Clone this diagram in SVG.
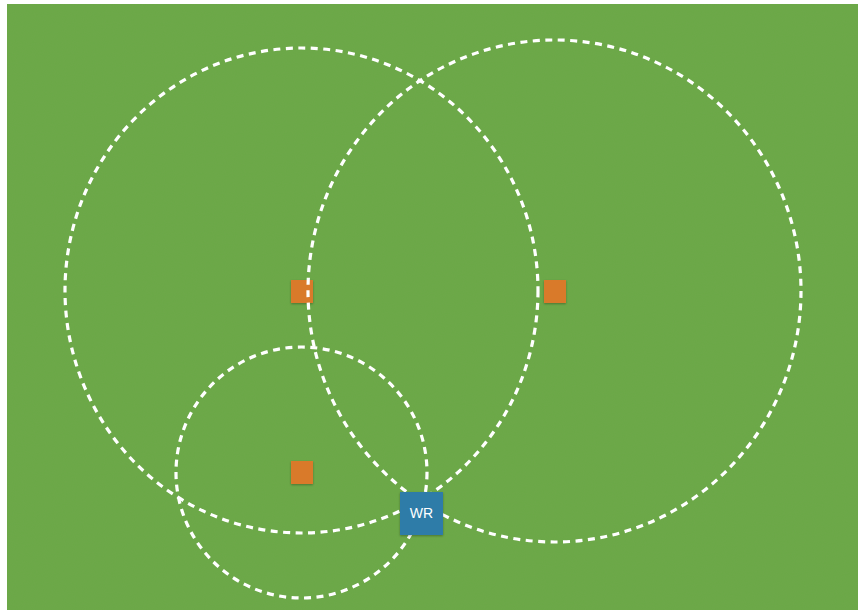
<svg xmlns="http://www.w3.org/2000/svg" width="858" height="610" viewBox="0 0 858 610">
  <defs>
    <filter id="noise" x="0" y="0" width="100%" height="100%">
      <feTurbulence type="fractalNoise" baseFrequency="0.9" numOctaves="2" seed="3" result="t"/>
      <feColorMatrix in="t" type="matrix" values="0 0 0 0 0.2  0 0 0 0 0.35  0 0 0 0 0.1  0 0 0 0.22 0"/>
    </filter>
    <filter id="shadow" x="-20%" y="-20%" width="140%" height="150%">
      <feDropShadow dx="0" dy="1" stdDeviation="0.8" flood-color="#000" flood-opacity="0.3"/>
    </filter>
  </defs>
  <style>
    .ring { fill: none; stroke: #ffffff; stroke-width: 3.2; stroke-dasharray: 7 5.5; }
    .ap { fill: #d97a2b; filter: url(#shadow); }
    .wr { fill: #2f7ca8; filter: url(#shadow); }
    .lbl { font-family: "Liberation Sans", Arial, sans-serif; font-size: 14px; fill: #ffffff; text-anchor: middle; }
  </style>
  <rect x="0" y="0" width="858" height="610" fill="#ffffff"/>
  <rect x="7" y="4" width="851" height="606" fill="#6aa946"/>
  <rect x="7" y="4" width="851" height="606" filter="url(#noise)"/>
  <g id="ap1"><rect class="ap" x="291" y="280" width="22" height="23"/></g>
  <g id="ap2"><rect class="ap" x="544" y="280" width="22" height="23"/></g>
  <g id="ap3"><rect class="ap" x="291" y="461" width="22" height="23"/></g>
  <g id="connectors">
    <ellipse class="ring" cx="301.5" cy="290.5" rx="236.5" ry="242.5"/>
    <ellipse class="ring" cx="554.5" cy="291" rx="246.5" ry="251"/>
    <ellipse class="ring" cx="301.5" cy="472.5" rx="125.5" ry="125.5"/>
  </g>
  <g id="wr">
    <rect class="wr" x="400" y="492" width="43" height="43"/>
    <text class="lbl" x="421.5" y="518">WR</text>
  </g>
</svg>
